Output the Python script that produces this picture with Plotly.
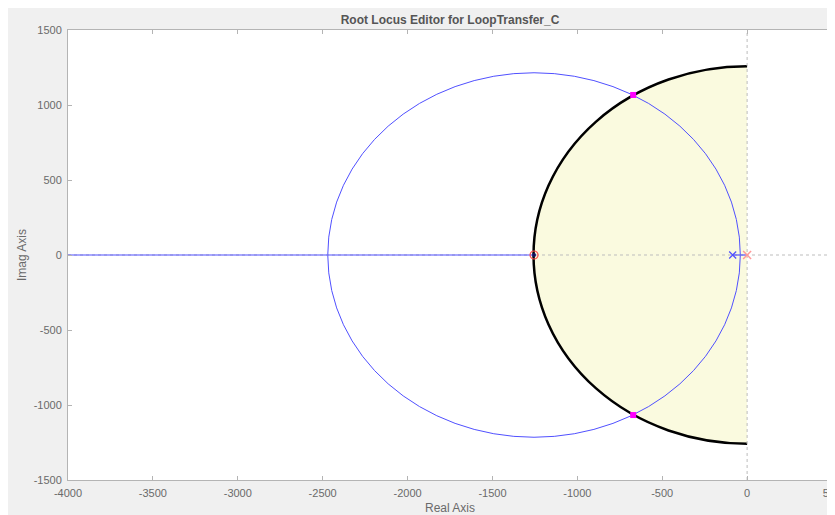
import plotly.graph_objects as go

# ---- data ----
x_ticks = [-4000, -3500, -3000, -2500, -2000, -1500, -1000, -500, 0, 500]
y_ticks = [-1500, -1000, -500, 0, 500, 1000, 1500]

region_radius = [1258]                 # shaded natural-frequency region (left half-disc)
locus_center = [-1255, 0]              # root-locus circle centre
locus_radius = [1215]                  # root-locus circle radius

real_locus_left_x = [-4000, -1255]     # real-axis branch to the left
real_locus_left_y = [0, 0]
real_locus_right_x = [-85, 0]          # real-axis branch between the poles
real_locus_right_y = [0, 0]

zero_x = [-1255]
zero_y = [0]
comp_pole_x = [-85]
comp_pole_y = [0]
plant_pole_x = [0]
plant_pole_y = [0]
cl_pole_x = [-671, -671, -1255]
cl_pole_y = [1067, -1067, 0]

x_range = [-4000, 500]
y_range = [-1500, 1500]

# ---- figure (page body adds an 8 px offset) ----
W, H = 835, 515
ML, MR, MT, MB = 60, 11, 22, 43
PW, PH = W - ML - MR, H - MT - MB

gray_txt = "#6a6a6a"
axis_gray = "#b4b4b4"
blue = "rgb(80,80,255)"

fig = go.Figure()

# dotted zero lines
fig.add_trace(go.Scatter(x=x_range, y=[0, 0], mode="lines",
                         line=dict(color="#bdbdbd", width=1, dash="dot"),
                         hoverinfo="skip", showlegend=False))
fig.add_trace(go.Scatter(x=[0, 0], y=y_range, mode="lines",
                         line=dict(color="#bdbdbd", width=1, dash="dot"),
                         hoverinfo="skip", showlegend=False))

# real-axis locus branches
fig.add_trace(go.Scatter(x=real_locus_left_x, y=real_locus_left_y, mode="lines",
                         line=dict(color=blue, width=1.2), showlegend=False))
fig.add_trace(go.Scatter(x=real_locus_right_x, y=real_locus_right_y, mode="lines",
                         line=dict(color=blue, width=1.2), showlegend=False))

# open-loop zero (red circle)
fig.add_trace(go.Scatter(x=zero_x, y=zero_y, mode="markers",
                         marker=dict(symbol="circle-open", size=8, color="#ff5050",
                                     line=dict(width=1.2, color="#ff5050")),
                         showlegend=False))
# compensator pole (blue x)
fig.add_trace(go.Scatter(x=comp_pole_x, y=comp_pole_y, mode="markers",
                         marker=dict(symbol="x-thin", size=7,
                                     line=dict(width=1.3, color="#5050ff")),
                         showlegend=False))
# plant pole (pink x)
fig.add_trace(go.Scatter(x=plant_pole_x, y=plant_pole_y, mode="markers",
                         marker=dict(symbol="x-thin", size=8,
                                     line=dict(width=1.5, color="#ff9a9a")),
                         showlegend=False))
# closed-loop poles (magenta squares)
fig.add_trace(go.Scatter(x=cl_pole_x[:2], y=cl_pole_y[:2], mode="markers",
                         marker=dict(symbol="square", size=6, color="#ff00ff",
                                     line=dict(width=0)),
                         showlegend=False))
fig.add_trace(go.Scatter(x=cl_pole_x[2:], y=cl_pole_y[2:], mode="markers",
                         marker=dict(symbol="circle", size=4, color="#101060",
                                     line=dict(width=0)),
                         showlegend=False))

r = region_radius[0]
cx, cy = locus_center
lr = locus_radius[0]
shapes = [
    # shaded region (full disc, right half hidden below)
    dict(type="circle", xref="x", yref="y", x0=-r, x1=r, y0=-r, y1=r,
         fillcolor="#fafadf", line=dict(color="black", width=2.5), layer="below"),
    dict(type="rect", xref="x", yref="y", x0=0, x1=x_range[1] + 200,
         y0=y_range[0] - 200, y1=y_range[1] + 200,
         fillcolor="white", line=dict(width=0), layer="below"),
    # root-locus circle
    dict(type="circle", xref="x", yref="y", x0=cx - lr, x1=cx + lr,
         y0=cy - lr, y1=cy + lr, line=dict(color=blue, width=1), layer="below"),
]

axis_common = dict(showline=True, linecolor=axis_gray, linewidth=1, mirror="ticks",
                   ticks="inside", ticklen=4, tickcolor=axis_gray, tickwidth=1,
                   showgrid=False, zeroline=False, automargin=False,
                   tickfont=dict(family="Liberation Sans, Arial", size=11, color=gray_txt))

fig.update_layout(
    width=W, height=H,
    margin=dict(l=ML, r=MR, t=MT, b=MB),
    paper_bgcolor="#f0f0f0", plot_bgcolor="white",
    shapes=shapes,
    xaxis=dict(range=x_range, tickvals=x_ticks, ticktext=[str(v) for v in x_ticks],
               ticklabelstandoff=3, **axis_common),
    yaxis=dict(range=y_range, tickvals=y_ticks, ticktext=[str(v) for v in y_ticks],
               ticklabelstandoff=3, **axis_common),
    title=dict(text="Root Locus Editor for LoopTransfer_C", x=(ML + PW / 2) / W,
               xanchor="center", y=1 - 12 / H, yanchor="middle", yref="container",
               font=dict(family="Liberation Sans, Arial", size=12, color="#555555",
                         weight="bold")),
    annotations=[
        dict(text="Real Axis", xref="paper", yref="paper", x=0.5, y=-(500 - (H - MB)) / PH,
             xanchor="center", yanchor="middle", showarrow=False,
             font=dict(family="Liberation Sans, Arial", size=12, color=gray_txt)),
        dict(text="Imag Axis", xref="paper", yref="paper", x=(14 - ML) / PW, y=0.5,
             xanchor="center", yanchor="middle", showarrow=False, textangle=-90,
             font=dict(family="Liberation Sans, Arial", size=12, color=gray_txt)),
    ],
    showlegend=False,
)

fig.write_html("out.html")
